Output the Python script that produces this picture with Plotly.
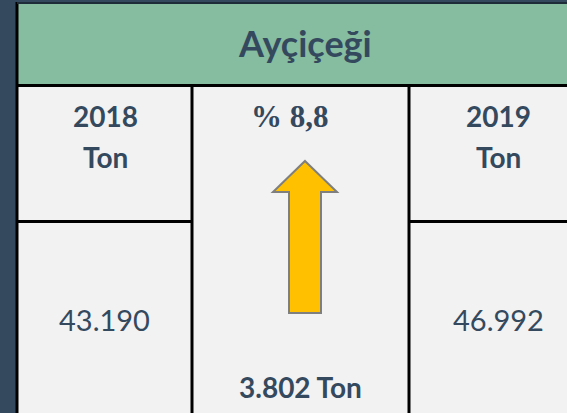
import plotly.graph_objects as go

# ---- data ----
title = "Ayçiçeği"
years = ["2018", "2019"]
unit = "Ton"
values = [43190, 46992]

def tr_int(v):
    return f"{v:,}".replace(",", ".")

diff = values[1] - values[0]
pct = diff / values[0] * 100
pct_label = "% " + f"{pct:.1f}".replace(".", ",")
diff_label = f"{tr_int(diff)} {unit}"

# ---- style ----
W, H = 567, 413
DARK = "#34495E"
GREEN = "#86BCA0"
CELL = "#F2F2F2"
TXT = "#34495E"
FONT = "Lato"
SERIF = "Liberation Serif"

fig = go.Figure()
fig.add_trace(go.Scatter(x=[0, W], y=[0, H], mode="markers",
                         marker=dict(opacity=0), hoverinfo="skip", showlegend=False))

shapes = []
shapes.append(dict(type="rect", x0=17, x1=W, y0=2, y1=85, fillcolor=GREEN, line=dict(width=0), layer="below"))
shapes.append(dict(type="rect", x0=17, x1=W, y0=85, y1=H, fillcolor=CELL, line=dict(width=0), layer="below"))
blk = dict(color="#000000", width=3)
shapes.append(dict(type="line", x0=17, x1=17, y0=2, y1=H, line=blk))
shapes.append(dict(type="line", x0=17, x1=W, y0=3, y1=3, line=dict(color="#1E2B38", width=2)))
shapes.append(dict(type="line", x0=17, x1=W, y0=85.5, y1=85.5, line=blk))
shapes.append(dict(type="line", x0=192, x1=192, y0=85, y1=H, line=blk))
shapes.append(dict(type="line", x0=409, x1=409, y0=85, y1=H, line=blk))
shapes.append(dict(type="line", x0=17, x1=192, y0=221.5, y1=221.5, line=blk))
shapes.append(dict(type="line", x0=409, x1=W, y0=221.5, y1=221.5, line=blk))
tip, hb, bot = (161, 192, 313) if diff >= 0 else (313, 282, 161)
shapes.append(dict(type="path",
                   path=f"M 305 {tip} L 337 {hb} L 321 {hb} L 321 {bot} L 289 {bot} L 289 {hb} L 273 {hb} Z",
                   fillcolor="#FFC000", line=dict(color="#7F7F7F", width=2)))

ann = []
def t(x, y, text, size, bold=True, family=FONT):
    ann.append(dict(x=x, y=y, xref="x", yref="y", text=text,
                    showarrow=False, xanchor="center", yanchor="middle",
                    font=dict(family=family, size=size, color=TXT,
                              weight="bold" if bold else "normal")))

t(305, 43, title, 36)
t(105, 116, years[0], 28)
t(105, 157, unit, 28)
t(498, 116, years[1], 28)
t(498, 157, unit, 28)
t(104, 319, tr_int(values[0]), 29, bold=False)
t(498, 319, tr_int(values[1]), 29, bold=False)
t(290, 116, pct_label, 31, family=SERIF)
t(300, 387, diff_label, 28)

fig.update_layout(
    width=W, height=H, margin=dict(l=0, r=0, t=0, b=0),
    paper_bgcolor=DARK, plot_bgcolor=DARK,
    xaxis=dict(range=[0, W], visible=False, fixedrange=True),
    yaxis=dict(range=[H, 0], visible=False, fixedrange=True),
    shapes=shapes, annotations=ann, showlegend=False,
)
fig.write_html("out.html", config={"displayModeBar": False},
               post_script="document.body.style.margin='0';document.body.style.overflow='hidden';")
